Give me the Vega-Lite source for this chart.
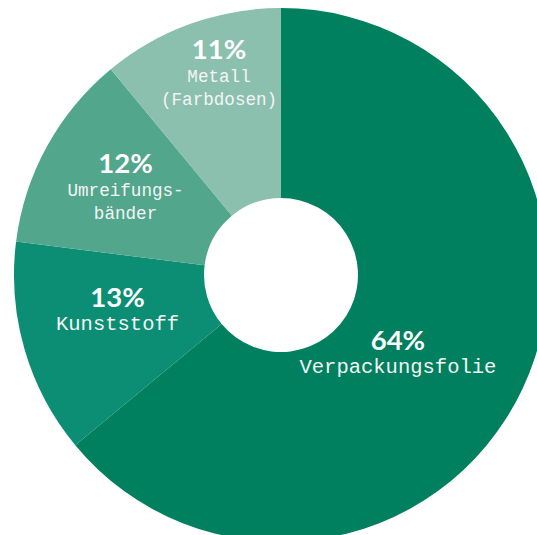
{
  "$schema": "https://vega.github.io/schema/vega-lite/v6.json",
  "width": 562,
  "height": 550,
  "autosize": "none",
  "padding": 0,
  "background": "white",
  "config": {"view": {"stroke": null}},
  "data": {
    "values": [
      {"category": "Verpackungsfolie", "share": 0.64, "label": "Verpackungsfolie"},
      {"category": "Kunststoff", "share": 0.13, "label": "Kunststoff"},
      {"category": "Umreifungsbänder", "share": 0.12, "label": "Umreifungs-\nbänder"},
      {"category": "Metall (Farbdosen)", "share": 0.11, "label": "Metall\n(Farbdosen)"}
    ]
  },
  "encoding": {
    "theta": {"field": "share", "type": "quantitative", "stack": true},
    "order": {"field": "share", "type": "quantitative", "sort": "descending"}
  },
  "layer": [
    {
      "mark": {"type": "arc", "radius": 267, "radius2": 77, "strokeWidth": 0},
      "encoding": {
        "color": {
          "field": "category",
          "type": "nominal",
          "scale": {
            "domain": ["Verpackungsfolie", "Kunststoff", "Umreifungsbänder", "Metall (Farbdosen)"],
            "range": ["#00805E", "#0B8E73", "#52A68C", "#8BBFAE"]
          },
          "legend": null
        }
      }
    },
    {
      "mark": {"type": "text", "font": "Lato", "fontWeight": "bold", "fontSize": 27.5, "fill": "white", "align": "center", "baseline": "alphabetic"},
      "encoding": {
        "theta": {"field": "share", "type": "quantitative", "stack": true, "scale": {"domain": [0, 1], "range": [0.1646, 6.3441]}},
        "radius": {"field": "share", "type": "quantitative", "scale": {"type": "linear", "zero": false, "domain": [0.11, 0.12, 0.13, 0.64], "range": [225, 186, 166.5, 139]}},
        "text": {"field": "share", "type": "quantitative", "format": ".0%"}
      }
    },
    {
      "mark": {"type": "text", "font": "Liberation Mono", "fill": "#f5f5f5", "align": "center", "baseline": "alphabetic", "dy": 23, "lineBreak": "\n", "lineHeight": 23},
      "encoding": {
        "theta": {"field": "share", "type": "quantitative", "stack": true, "scale": {"domain": [0, 1], "range": [0.1646, 6.3441]}},
        "radius": {"field": "share", "type": "quantitative", "scale": {"type": "linear", "zero": false, "domain": [0.11, 0.12, 0.13, 0.64], "range": [225, 186, 166.5, 139]}},
        "text": {"field": "label", "type": "nominal"},
        "size": {"field": "share", "type": "quantitative", "scale": {"type": "threshold", "domain": [0.125], "range": [17.6, 20.5]}, "legend": null}
      }
    }
  ],
  "resolve": {"scale": {"theta": "independent", "radius": "independent"}}
}
